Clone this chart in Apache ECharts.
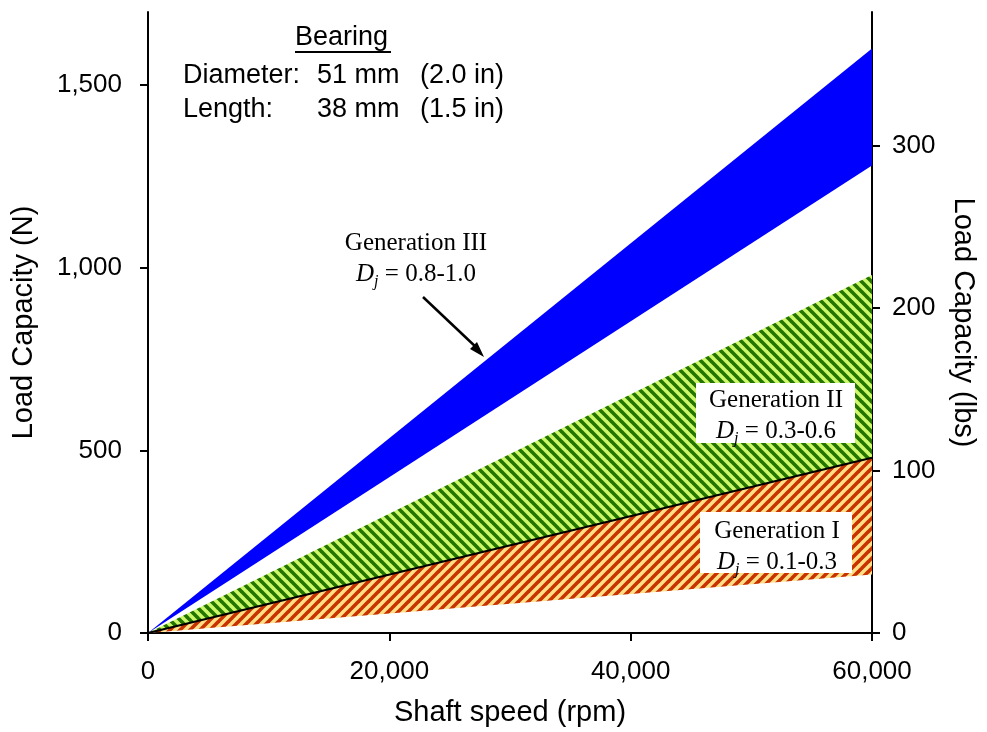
<!DOCTYPE html>
<html>
<head>
<meta charset="utf-8">
<title>Load capacity vs shaft speed</title>
<script src="https://cdn.jsdelivr.net/npm/echarts@6/dist/echarts.min.js"></script>
<style>
  html, body { margin: 0; padding: 0; background: #fff; }
  #chart { width: 987px; height: 732px; }
</style>
</head>
<body>
<div id="chart"></div>
<script>
// Shaft speed points (rpm) where each band boundary is defined
const speedRpm = [0, 60000];

// Band boundaries, load capacity in newtons
const gen1Lower = [0, 160];
const gen1Upper = [0, 480];
const gen2Lower = [0, 480];
const gen2Upper = [0, 980];
const gen3Lower = [0, 1280];
const gen3Upper = [0, 1600];

// Tick values
const speedTicks = [0, 20000, 40000, 60000];
const newtonTicks = [0, 500, 1000, 1500];
const poundTicks = [0, 100, 200, 300];

const newtonMax = 1700;
const newtonsPerPound = 4.448;

const SANS = "'Liberation Sans', Arial, sans-serif";
const SERIF = "'Liberation Serif', 'Times New Roman', serif";

// Diagonal hatch tile: dir 'back' draws "\" stripes, 'fwd' draws "/" stripes
function hatch(dark, light, dir) {
  const p = 10;
  const c = document.createElement('canvas');
  c.width = p; c.height = p;
  const g = c.getContext('2d');
  g.fillStyle = light;
  g.fillRect(0, 0, p, p);
  g.strokeStyle = dark;
  g.lineWidth = 3.6;
  for (let k = -p; k <= p; k += p) {
    g.beginPath();
    if (dir === 'back') { g.moveTo(k - 1, -1); g.lineTo(k + p + 1, p + 1); }
    else { g.moveTo(k + p + 1, -1); g.lineTo(k - 1, p + 1); }
    g.stroke();
  }
  return { image: c, repeat: 'repeat' };
}

// A filled band between a lower and an upper boundary, drawn through the axes
function bandSeries(name, lower, upper, fill) {
  const rows = speedRpm.map((x, i) => [x, lower[i], upper[i]]);
  return {
    type: 'custom', name: name, silent: true, z: 2,
    data: rows,
    encode: { x: 0, y: [1, 2] },
    renderItem: (params, api) => {
      if (params.dataIndex !== 0) return null;
      const top = rows.map(r => api.coord([r[0], r[2]]));
      const bottom = rows.slice().reverse().map(r => api.coord([r[0], r[1]]));
      return {
        type: 'polygon',
        shape: { points: top.concat(bottom) },
        style: { fill: fill, stroke: null }
      };
    }
  };
}

const fmt = v => Number(v).toLocaleString('en-US');

const chart = echarts.init(document.getElementById('chart'), null, { renderer: 'canvas' });

const axisLineStyle = { show: true, lineStyle: { color: '#000', width: 2 } };
const tickStyle = { show: true, inside: false, length: 8, lineStyle: { color: '#000', width: 2 } };
const titleStyle = { fontFamily: SANS, fontSize: 29, color: '#000' };
const tickLabel = { formatter: fmt, fontFamily: SANS, fontSize: 26, color: '#000' };

function genLabel(x, y, title, range) {
  return {
    type: 'text', z: 100, x: x, y: y,
    style: {
      text: title + '\n{d|D}{j|j}{t| = ' + range + '}',
      fontFamily: SERIF, fontSize: 25, align: 'center', verticalAlign: 'middle',
      fill: '#000', lineHeight: 31,
      rich: {
        d: { fontFamily: SERIF, fontSize: 25, fontStyle: 'italic', lineHeight: 31 },
        j: { fontFamily: SERIF, fontSize: 16, fontStyle: 'italic', lineHeight: 16, verticalAlign: 'bottom' },
        t: { fontFamily: SERIF, fontSize: 25, lineHeight: 31 }
      }
    }
  };
}

function sansText(x, y, text) {
  return {
    type: 'text', z: 100, x: x, y: y,
    style: { text: text, fontFamily: SANS, fontSize: 27, fill: '#000', align: 'left', verticalAlign: 'middle' }
  };
}

chart.setOption({
  animation: false,
  backgroundColor: '#fff',
  grid: { left: 148, right: 115, top: 12, bottom: 95, containLabel: false },
  xAxis: {
    type: 'value', min: 0, max: 60000, interval: 20000,
    name: 'Shaft speed (rpm)', nameLocation: 'middle', nameGap: 65,
    nameTextStyle: titleStyle,
    axisLine: axisLineStyle,
    axisTick: Object.assign({ customValues: speedTicks }, tickStyle),
    axisLabel: Object.assign({ customValues: speedTicks, margin: 26 }, tickLabel),
    splitLine: { show: false }
  },
  yAxis: [
    {
      type: 'value', min: 0, max: newtonMax, position: 'left',
      name: 'Load Capacity (N)', nameLocation: 'middle', nameGap: 110, nameRotate: 90,
      nameTextStyle: titleStyle,
      axisLine: axisLineStyle,
      axisTick: Object.assign({ customValues: newtonTicks }, tickStyle),
      axisLabel: Object.assign({ customValues: newtonTicks, margin: 26 }, tickLabel),
      splitLine: { show: false }
    },
    {
      type: 'value', min: 0, max: newtonMax / newtonsPerPound, position: 'right',
      name: 'Load Capacity (lbs)', nameLocation: 'middle', nameGap: 76, nameRotate: -90,
      nameTextStyle: titleStyle,
      axisLine: axisLineStyle,
      axisTick: Object.assign({ customValues: poundTicks }, tickStyle),
      axisLabel: Object.assign({ customValues: poundTicks, margin: 20 }, tickLabel),
      splitLine: { show: false }
    }
  ],
  series: [
    bandSeries('Generation I', gen1Lower, gen1Upper, hatch('#c83200', '#ffdf85', 'fwd')),
    bandSeries('Generation II', gen2Lower, gen2Upper, hatch('#237500', '#cdf86a', 'back')),
    bandSeries('Generation III', gen3Lower, gen3Upper, '#0000ff'),
    {
      type: 'line', silent: true, symbol: 'none', z: 5,
      lineStyle: { color: '#000', width: 2 },
      data: speedRpm.map((x, i) => [x, gen1Upper[i]])
    }
  ],
  graphic: [
    // Bearing description block
    { type: 'text', z: 100, x: 295, y: 38, style: { text: 'Bearing', fontFamily: SANS, fontSize: 27, fill: '#000', verticalAlign: 'middle' } },
    { type: 'line', z: 100, shape: { x1: 295, y1: 52, x2: 391, y2: 52 }, style: { stroke: '#000', lineWidth: 2 } },
    sansText(183, 76, 'Diameter:'),
    sansText(317, 76, '51 mm'),
    sansText(420, 76, '(2.0 in)'),
    sansText(183, 110, 'Length:'),
    sansText(317, 110, '38 mm'),
    sansText(420, 110, '(1.5 in)'),

    // Generation III label and arrow
    genLabel(416, 259, 'Generation III', '0.8-1.0'),
    { type: 'line', z: 100, shape: { x1: 423, y1: 297, x2: 478, y2: 349 }, style: { stroke: '#000', lineWidth: 2.5 } },
    { type: 'polygon', z: 100, shape: { points: [[484, 357], [470, 349], [477, 342]] }, style: { fill: '#000' } },

    // Generation II label box
    { type: 'rect', z: 99, shape: { x: 696, y: 383, width: 159, height: 60 }, style: { fill: '#fff' } },
    genLabel(776, 416, 'Generation II', '0.3-0.6'),

    // Generation I label box
    { type: 'rect', z: 99, shape: { x: 700, y: 512, width: 152, height: 61 }, style: { fill: '#fff' } },
    genLabel(777, 547, 'Generation I', '0.1-0.3')
  ]
});
</script>
</body>
</html>
